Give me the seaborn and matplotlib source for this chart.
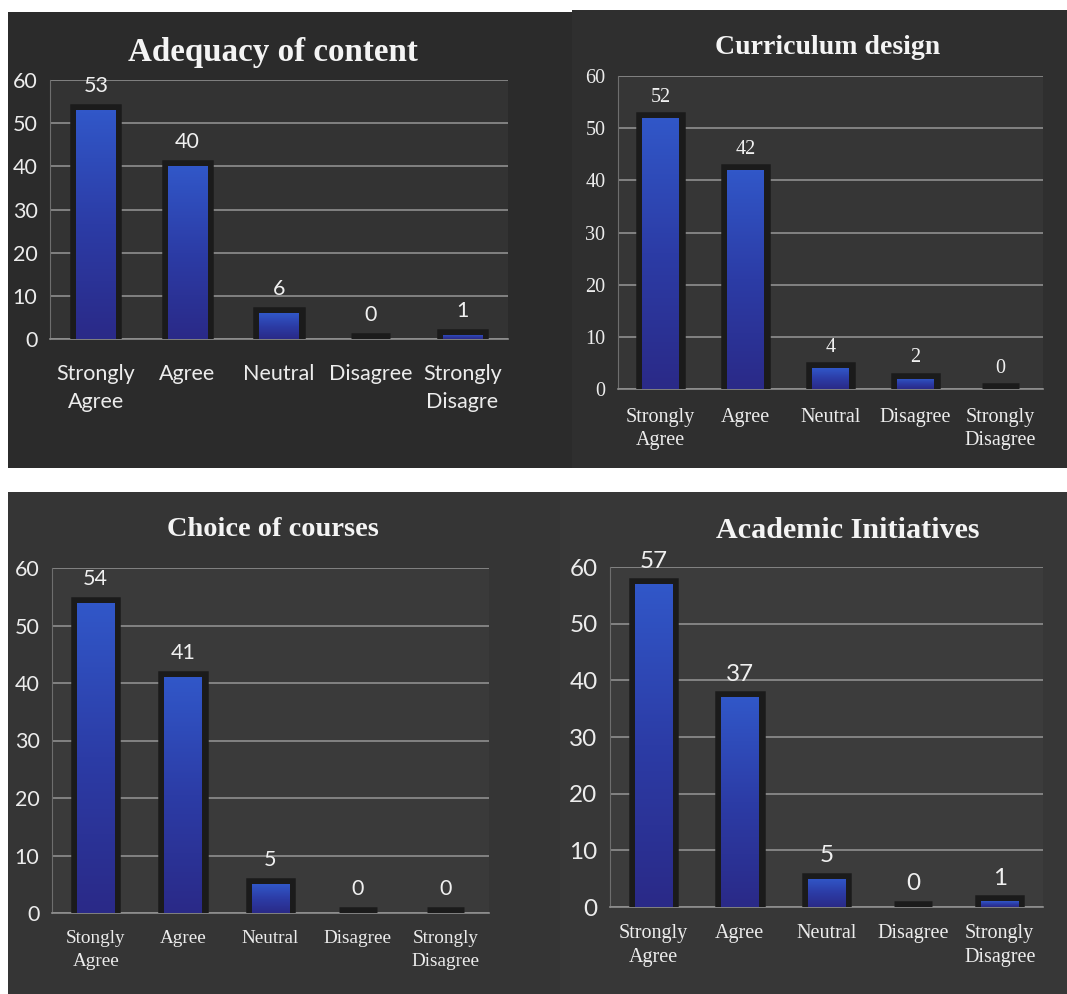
import numpy as np
import matplotlib
matplotlib.use("Agg")
import matplotlib.pyplot as plt
import matplotlib.patheffects as pe
from matplotlib.patches import Rectangle
from matplotlib.colors import LinearSegmentedColormap
import seaborn as sns

# ---------------- data ----------------
cats_adequacy = ["Strongly\nAgree", "Agree", "Neutral", "Disagree", "Strongly\nDisagre"]
vals_adequacy = [53, 40, 6, 0, 1]

cats_curriculum = ["Strongly\nAgree", "Agree", "Neutral", "Disagree", "Strongly\nDisagree"]
vals_curriculum = [52, 42, 4, 2, 0]

cats_choice = ["Stongly\nAgree", "Agree", "Neutral", "Disagree", "Strongly\nDisagree"]
vals_choice = [54, 41, 5, 0, 0]

cats_academic = ["Strongly\nAgree", "Agree", "Neutral", "Disagree", "Strongly\nDisagree"]
vals_academic = [57, 37, 5, 0, 1]

titles = ["Adequacy of content", "Curriculum design", "Choice of courses", "Academic Initiatives"]
yticks = [0, 10, 20, 30, 40, 50, 60]

sns.set_style("dark")
plt.rcParams["font.family"] = ["DejaVu Sans"]

W, H = 1067, 994
fig = plt.figure(figsize=(W / 100, H / 100), dpi=100)
fig.patch.set_facecolor("white")

SANS = "Lato"
SERIF = "Liberation Serif"


def px_rect(x0, y0, x1, y1):
    return [x0 / W, 1 - y1 / H, (x1 - x0) / W, (y1 - y0) / H]


# panel backgrounds
panels = [
    ((8, 12, 572, 468), "#2b2b2b"),
    ((572, 10, 1067, 468), "#2f2f2f"),
    ((8, 492, 560, 994), "#353535"),
    ((560, 492, 1067, 994), "#373737"),
]
for (x0, y0, x1, y1), col in panels:
    fig.patches.append(Rectangle((x0 / W, 1 - y1 / H), (x1 - x0) / W, (y1 - y0) / H,
                                 transform=fig.transFigure, facecolor=col,
                                 edgecolor="none", zorder=-5))

bar_cmap = LinearSegmentedColormap.from_list("bluebar", ["#2a2a88", "#2c3ca6", "#3157c8"])

specs = [
    dict(cats=cats_adequacy, vals=vals_adequacy, rect=(50, 80, 508, 339),
         tick_font=SANS, cat_font=SANS, lab_font=SANS, tick_fs=15.5, cat_fs=15.5, lab_fs=15.5,
         cat_pad=18, cat_ls=1.5, lab_pad=10, title_xy=(273, 53), title_fs=23.8, face="#333333"),
    dict(cats=cats_curriculum, vals=vals_curriculum, rect=(618, 76, 1043, 389),
         tick_font=SERIF, cat_font=SERIF, lab_font=SERIF, tick_fs=14.5, cat_fs=14.5, lab_fs=14.5,
         cat_pad=14, cat_ls=1.25, lab_pad=8, title_xy=(828, 47), title_fs=20, face="#363636"),
    dict(cats=cats_choice, vals=vals_choice, rect=(52, 568, 489, 913),
         tick_font=SANS, cat_font=SERIF, lab_font=SANS, tick_fs=15.5, cat_fs=13.8, lab_fs=15.5,
         cat_pad=12, cat_ls=1.5, lab_pad=10, title_xy=(273, 530), title_fs=20.4, face="#3a3a3a"),
    dict(cats=cats_academic, vals=vals_academic, rect=(610, 567, 1043, 907),
         tick_font=SANS, cat_font=SERIF, lab_font=SANS, tick_fs=17.5, cat_fs=14.5, lab_fs=17.5,
         cat_pad=12, cat_ls=1.35, lab_pad=9, title_xy=(848, 530), title_fs=21.7, face="#3c3c3c"),
]

for spec, title in zip(specs, titles):
    x0, y0, x1, y1 = spec["rect"]
    ax = fig.add_axes(px_rect(x0, y0, x1, y1))
    ax.set_facecolor(spec["face"])
    sns.barplot(x=spec["cats"], y=spec["vals"], ax=ax, color="#2d3fa6",
                width=0.43, saturation=1, errorbar=None, zorder=3)
    for p in ax.patches:
        p.set_edgecolor("none")
        p.set_path_effects([pe.withStroke(linewidth=9, foreground="#1b1b1b")])
        h = p.get_height()
        if h > 0:
            bx, by = p.get_x(), p.get_y()
            bw = p.get_width()
            grad = np.linspace(1, 0, 64).reshape(-1, 1)
            im = ax.imshow(grad, extent=[bx, bx + bw, by, by + h], aspect="auto",
                           cmap=bar_cmap, zorder=4, interpolation="bilinear")
            im.set_clip_path(p)
    ax.set_xlim(-0.5, 4.5)
    ax.set_ylim(0, 60)
    ax.set_yticks(yticks)
    ax.yaxis.grid(True, color="#8f8f8f", linewidth=1.2)
    ax.xaxis.grid(False)
    ax.set_axisbelow(True)
    for s in ["top", "right"]:
        ax.spines[s].set_visible(False)
    ax.spines["left"].set_color("#6e6e6e")
    ax.spines["bottom"].set_color("#8f8f8f")
    ax.spines["bottom"].set_linewidth(1.2)
    ax.tick_params(axis="both", length=0, colors="#ececec")
    ax.tick_params(axis="y", pad=9)
    ax.tick_params(axis="x", pad=spec["cat_pad"])
    for t in ax.get_yticklabels():
        t.set_fontfamily(spec["tick_font"])
        t.set_fontsize(spec["tick_fs"])
    for t in ax.get_xticklabels():
        t.set_fontfamily(spec["cat_font"])
        t.set_fontsize(spec["cat_fs"])
        t.set_linespacing(spec["cat_ls"])
        t.set_multialignment("center")
    ax.set_xlabel("")
    ax.set_ylabel("")
    ax.bar_label(ax.containers[0], labels=[str(v) for v in spec["vals"]],
                 padding=spec["lab_pad"], color="#f0f0f0",
                 fontfamily=spec["lab_font"], fontsize=spec["lab_fs"])
    tx, ty = spec["title_xy"]
    fig.text(tx / W, 1 - ty / H, title, ha="center", va="center", color="#f4f4f4",
             fontfamily=SERIF, fontweight="bold", fontsize=spec["title_fs"])

fig.savefig("out.png", dpi=100, facecolor=fig.get_facecolor())
